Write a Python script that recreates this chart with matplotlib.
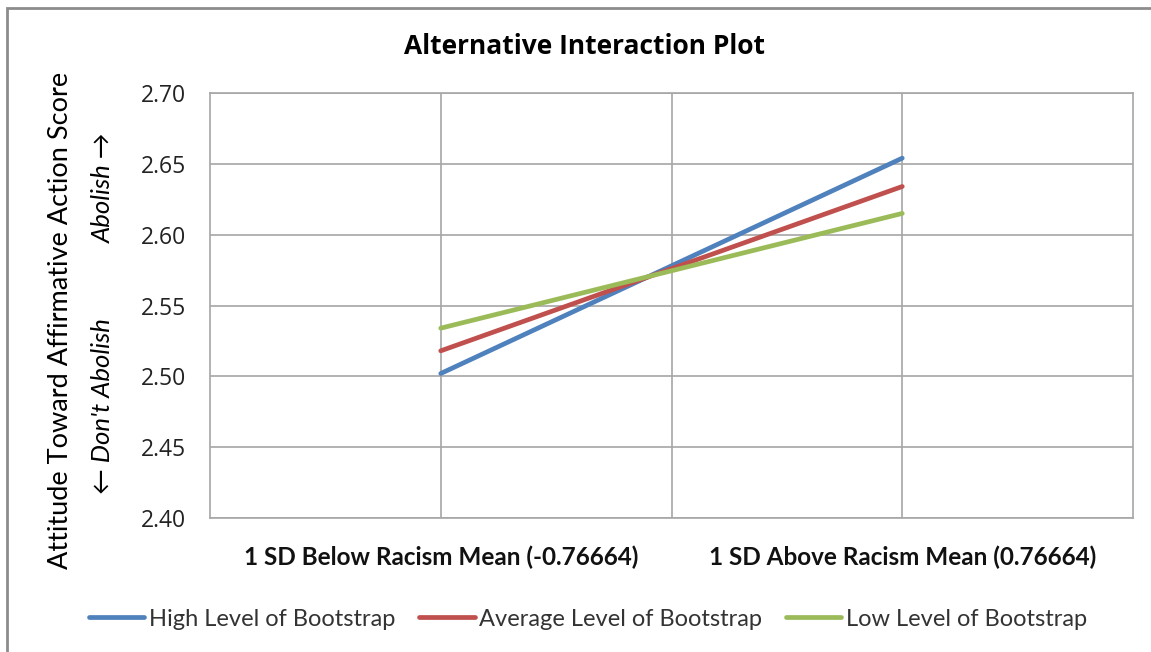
import matplotlib
matplotlib.use('Agg')
import matplotlib.pyplot as plt
from matplotlib.patches import Rectangle
import numpy as np

categories = ['1 SD Below Racism Mean (-0.76664)', '1 SD Above Racism Mean (0.76664)']
high_boot = [2.502, 2.654]
avg_boot = [2.518, 2.634]
low_boot = [2.534, 2.615]
series_names = ['High Level of Bootstrap', 'Average Level of Bootstrap', 'Low Level of Bootstrap']
y_ticks = [2.40, 2.45, 2.50, 2.55, 2.60, 2.65, 2.70]

W, H = 1151, 652
fig = plt.figure(figsize=(W / 100, H / 100), dpi=100)
ax = fig.add_axes([210 / W, 1 - 518 / H, (1133 - 210) / W, (518 - 93) / H])

# categories sit on the 1st and 3rd of four slots
x = np.array([1, 3])
colors = ['#4F81BD', '#C0504D', '#9BBB59']
for vals, name, c in zip([high_boot, avg_boot, low_boot], series_names, colors):
    ax.plot(x, vals, color=c, lw=3.4, solid_capstyle='round', label=name, zorder=3)

ax.set_xlim(0, 4)
ax.set_ylim(2.40, 2.70)
ax.set_yticks(y_ticks)
ax.set_yticklabels(['%.2f' % v for v in y_ticks], fontsize=16.5, family='Open Sans', color='#222222')
ax.set_xticks([1, 2, 3])
ax.set_xticklabels([])
ax.tick_params(axis='both', length=0, pad=17)
ax.grid(True, color='#A6A6A6', lw=1.2)
for s in ax.spines.values():
    s.set_color('#A6A6A6')
    s.set_linewidth(1.2)

for xi, lab in zip(x, categories):
    ax.text(xi, -0.092, lab, transform=ax.get_xaxis_transform(), ha='center', va='center',
            fontsize=17.5, fontweight='bold', family='Lato', color='#111111')

fig.text(585 / W, 1 - 46 / H, 'Alternative Interaction Plot', ha='center', va='center',
         fontsize=19, fontweight='bold', family='Open Sans')
fig.text(61 / W, 1 - 320 / H, 'Attitude Toward Affirmative Action Score', rotation=90,
         ha='center', va='center', fontsize=19.5, family='Lato')
fig.text(103 / W, 1 - 188 / H, 'Abolish \u2192', rotation=90, ha='center', va='center',
         fontsize=18.5, style='italic', family=['Lato', 'DejaVu Sans'])
fig.text(103 / W, 1 - 406 / H, '\u2190 Don\'t Abolish', rotation=90, ha='center', va='center',
         fontsize=18.5, style='italic', family=['Lato', 'DejaVu Sans'])

leg = fig.legend(loc='center', bbox_to_anchor=(588 / W, 1 - 619 / H), ncol=3, frameon=False,
                 prop={'family': 'Lato', 'size': 17}, handlelength=2.35, handletextpad=0.2,
                 columnspacing=1.0)
for t in leg.get_texts():
    t.set_color('#333333')

fig.add_artist(Rectangle((7 / W, -0.1), 2, 1 - 8 / H + 0.1, transform=fig.transFigure,
                         fill=False, edgecolor='#8C8C8C', lw=2))

fig.savefig('out.png', dpi=100, facecolor='white')
